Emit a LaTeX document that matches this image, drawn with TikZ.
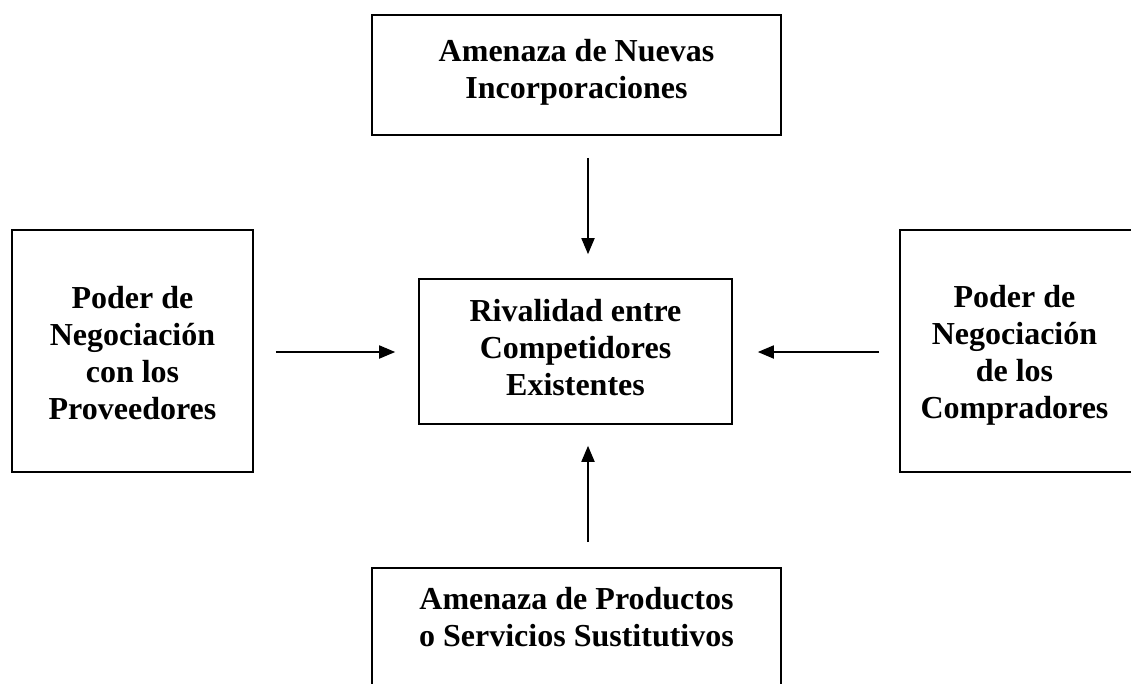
\documentclass[tikz,border=0pt]{standalone}
\usepackage{fontspec}
\setmainfont{Liberation Serif}
\usetikzlibrary{arrows.meta,calc}
\begin{document}
\begin{tikzpicture}[x=1pt,y=-1pt,
  box/.style={draw, line width=1.6pt, inner sep=0pt},
  lbl/.style={font=\fontsize{32}{37}\selectfont\bfseries, align=center, inner sep=0pt},
  arr/.style={-{Triangle[length=16pt,width=13pt]}, line width=1.8pt}]
\useasboundingbox (0,0) rectangle (1131,683);
\clip (0,0) rectangle (1131,683);
% boxes
\node[box, minimum width=409pt, minimum height=120pt] (top) at (576.5,75) {};
\node[box, minimum width=241pt, minimum height=242pt] (left) at (132.5,351) {};
\node[box, minimum width=313pt, minimum height=145pt] (ctr) at (575.5,351.5) {};
\node[box, minimum width=233pt, minimum height=242pt] (right) at (1016.5,351) {};
\node[box, minimum width=409pt, minimum height=122pt] (bot) at (576.5,629) {};
% texts
\node[lbl] (ttop) at (576.5,72) {Amenaza de Nuevas\\Incorporaciones};
\node[lbl] (tleft) at (132.5,353) {Poder de\\Negociación\\con los\\Proveedores};
\node[lbl] (tctr) at (575.5,348) {Rivalidad entre\\Competidores\\Existentes};
\node[lbl] (tright) at (1014.5,355) {Poder de\\Negociación\\de los\\Compradores};
\node[lbl] (tbot) at (576.5,617) {Amenaza de Productos\\o Servicios Sustitutivos};
% arrows
\draw[arr] ($(top.south)+(11.5,22)$) -- ($(ctr.north)+(12.5,-24)$);
\draw[arr] ($(left.east)+(22,1)$) -- ($(ctr.west)+(-23,0.5)$);
\draw[arr] ($(right.west)+(-20,1)$) -- ($(ctr.east)+(25,0.5)$);
\draw[arr] ($(bot.north)+(11.5,-25)$) -- ($(ctr.south)+(12.5,21)$);
\end{tikzpicture}
\end{document}
